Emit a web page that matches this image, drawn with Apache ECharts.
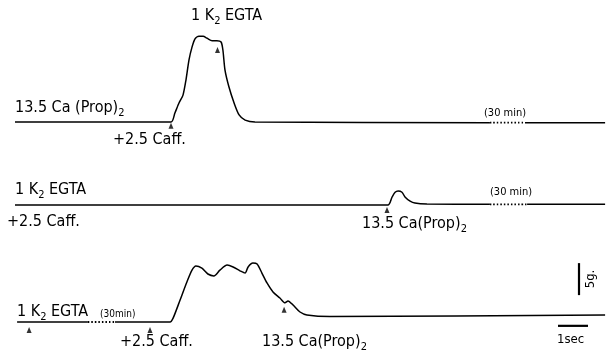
<!DOCTYPE html>
<html>
<head>
<meta charset="utf-8">
<style>
html,body{margin:0;padding:0;background:#fff;}
#c{width:610px;height:355px;}
</style>
<script src="https://cdn.jsdelivr.net/npm/echarts@6/dist/echarts.min.js"></script>
</head>
<body>
<div id="c"></div>
<script>
// time in seconds, force in grams (1 sec / 5 g scale bars)
const topTrace = [[0.1,0],[5.3,0],[5.43,1.4],[5.57,3.0],[5.7,4.2],[5.8,6.6],[5.9,9.7],[6.0,11.7],[6.1,13.0],[6.23,13.4],[6.37,13.4],[6.5,13.1],[6.67,12.7],[6.83,12.7],[6.97,12.5],[7.03,11.25],[7.1,8.1],[7.23,5.5],[7.4,3.0],[7.57,1.1],[7.77,0.3],[8.1,0],[15.93,-0.1]];
const topGap = [[15.93,-0.1],[17.1,-0.1]];
const topTail = [[17.1,-0.1],[19.77,-0.1]];
const midTrace = [[0.1,0],[12.53,0],[12.67,1.25],[12.77,2.0],[12.87,2.2],[13.0,2.0],[13.1,1.25],[13.27,0.6],[13.43,0.3],[13.83,0.15],[15.93,0.1]];
const midGap = [[15.93,0.1],[17.17,0.1]];
const midTail = [[17.17,0.1],[19.77,0.1]];
const botHead = [[0.17,0],[2.53,0]];
const botGap = [[2.53,0],[3.43,0]];
const botTrace = [[3.43,0],[5.27,0],[5.37,0.6],[5.6,3.4],[5.83,6.25],[6.0,8.1],[6.13,8.75],[6.33,8.4],[6.53,7.5],[6.73,7.2],[6.93,8.1],[7.17,8.9],[7.37,8.6],[7.6,8.0],[7.77,7.65],[7.87,8.6],[8.03,9.2],[8.17,9.06],[8.33,7.65],[8.5,6.1],[8.7,4.7],[8.93,3.75],[9.1,3.0],[9.2,3.3],[9.37,2.65],[9.6,1.56],[9.83,1.1],[10.6,0.85],[19.77,1.1]];
const topArrows = [[5.3,-0.6],[6.85,11.25]];
const midArrows = [[12.5,-0.8]];
const botArrows = [[0.57,-1.25],[4.6,-1.25],[9.07,1.9]];
const forceBar = [[18.9,4.2],[18.9,9.2]];
const timeBar = [[18.2,-0.6],[19.2,-0.6]];

const FONT = "'DejaVu Sans Condensed','DejaVu Sans',sans-serif";
const INK = '#000';

function grid(top, height){ return {left:12, width:594, top:top, height:height}; }
function xa(i){ return {type:'value', gridIndex:i, min:0, max:19.8, show:false}; }
function ya(i,min,max){ return {type:'value', gridIndex:i, min:min, max:max, show:false}; }
function line(i, data, dotted){
  return {type:'line', xAxisIndex:i, yAxisIndex:i, data:data, showSymbol:false, smooth:0.25, silent:true,
    lineStyle:{color:INK, width: dotted?1.8:1.5, type: dotted?[1.5,2]:'solid'}};
}
function arrows(i, data){
  return {type:'scatter', xAxisIndex:i, yAxisIndex:i, data:data, symbol:'triangle', symbolSize:[5,6], silent:true,
    itemStyle:{color:INK}};
}
function bar(i, data){
  return {type:'line', xAxisIndex:i, yAxisIndex:i, data:data, showSymbol:false, silent:true,
    lineStyle:{color:INK, width:2.2}};
}
function label(x, y, text, size){
  size = size || 16;
  return {type:'text', x:x, y:y, silent:true, style:{
    text:text, fill:INK, fontFamily:FONT, fontSize:size, lineHeight:Math.round(size*1.4),
    align:'left', verticalAlign:'middle',
    rich:{s:{fontFamily:FONT, fontSize:Math.round(size*0.7), lineHeight:Math.round(size*0.7), verticalAlign:'bottom', fill:INK}}
  }};
}

const chart = echarts.init(document.getElementById('c'), null, {renderer:'canvas'});
chart.setOption({
  animation:false,
  backgroundColor:'#fff',
  grid:[grid(26,102.4), grid(173,41.6), grid(258,76.8)],
  xAxis:[xa(0),xa(1),xa(2)],
  yAxis:[ya(0,-1,15), ya(1,-1.5,5), ya(2,-2,10)],
  series:[
    line(0, topTrace), line(0, topGap, true), line(0, topTail), arrows(0, topArrows),
    line(1, midTrace), line(1, midGap, true), line(1, midTail), arrows(1, midArrows),
    line(2, botHead), line(2, botGap, true), line(2, botTrace), arrows(2, botArrows),
    bar(2, forceBar), bar(2, timeBar)
  ],
  graphic:[
    label(191, 16, '1 K{s|2} EGTA'),
    label(15, 108, '13.5 Ca (Prop){s|2}'),
    label(113, 140, '+2.5 Caff.'),
    label(484, 113, '(30 min)', 11),
    label(15, 190, '1 K{s|2} EGTA'),
    label(7, 222, '+2.5 Caff.'),
    label(362, 224, '13.5 Ca(Prop){s|2}'),
    label(490, 192, '(30 min)', 11),
    label(17, 312, '1 K{s|2} EGTA'),
    label(100, 314, '(30min)', 10),
    label(120, 342, '+2.5 Caff.'),
    label(262, 342, '13.5 Ca(Prop){s|2}'),
    label(557, 340, '1sec', 13),
    {type:'text', x:591, y:279, rotation:Math.PI/2, silent:true, style:{text:'5g.', fill:INK, fontFamily:FONT, fontSize:13, align:'center', verticalAlign:'middle'}}
  ]
});
</script>
</body>
</html>
